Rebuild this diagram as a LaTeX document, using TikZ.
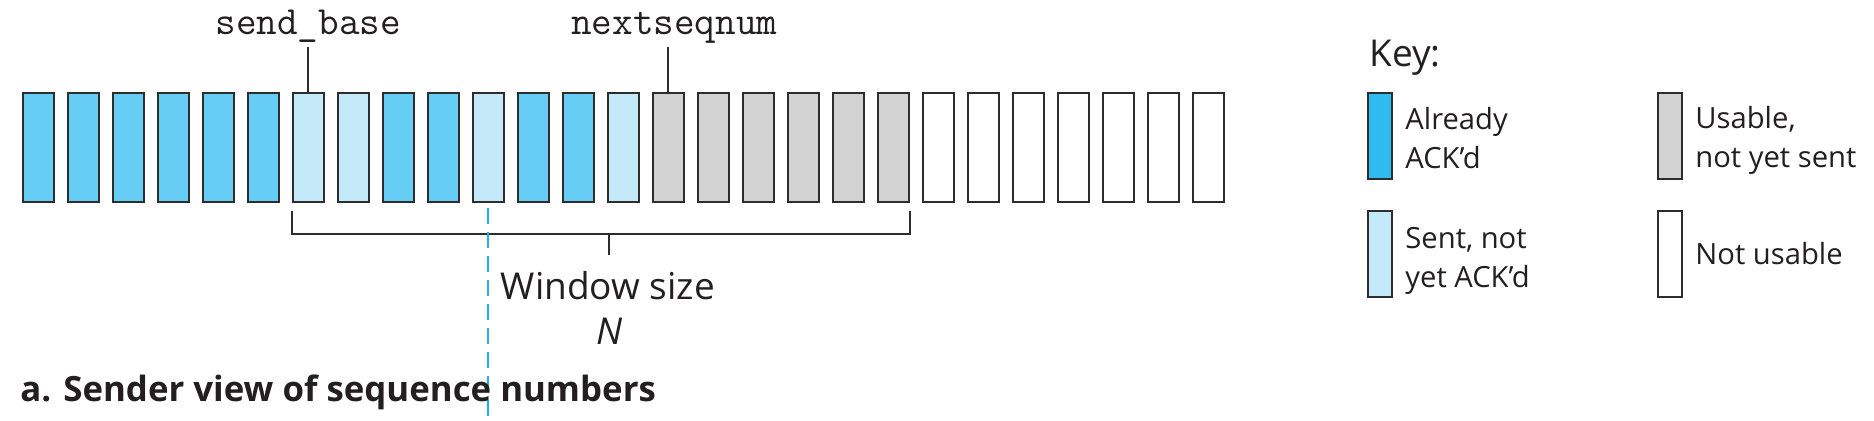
\documentclass[tikz,border=0pt]{standalone}
\usepackage{fontspec}
\setmainfont{Open Sans}
\usetikzlibrary{positioning}
\definecolor{ackblue}{RGB}{102,206,245}
\definecolor{keyblue}{RGB}{45,187,240}
\definecolor{sentblue}{RGB}{196,234,250}
\definecolor{usegray}{RGB}{210,210,210}
\definecolor{edge}{RGB}{45,45,45}
\definecolor{ink}{RGB}{35,31,32}
\definecolor{cutblue}{RGB}{26,178,238}
\tikzstyle{seqbox}=[draw=edge, line width=1pt, inner sep=0pt,
    minimum width=15.25pt, minimum height=54.25pt]
\tikzstyle{acked}=[seqbox, fill=ackblue]
\tikzstyle{sent}=[seqbox, fill=sentblue]
\tikzstyle{usable}=[seqbox, fill=usegray]
\tikzstyle{unused}=[seqbox, fill=white]
\tikzstyle{keybox}=[draw=edge, line width=1pt, inner sep=0pt,
    minimum width=12pt, minimum height=43pt]
\tikzstyle{ptr}=[font=\ttfamily\fontsize{20}{24}\selectfont, text=ink, inner sep=0pt]
\tikzstyle{lbl}=[font=\fontsize{18.5}{22}\selectfont, text=ink, inner sep=0pt]
\tikzstyle{keytxt}=[font=\fontsize{14.6}{19.5}\selectfont, text=ink, inner sep=0pt, align=left]
\tikzstyle{leader}=[draw=edge, line width=1pt]
\tikzstyle{cutline}=[draw=cutblue, line width=1.1pt, dash pattern=on 8pt off 4pt]

\begin{document}
\begin{tikzpicture}[x=0.5pt, y=0.5pt]
    \useasboundingbox (0,0) rectangle (1874,421);
    \foreach \s [count=\i from 0] in {acked,acked,acked,acked,acked,acked,sent,sent,
        acked,acked,sent,acked,acked,sent,usable,usable,usable,usable,usable,usable,
        unused,unused,unused,unused,unused,unused,unused}
        \node (seq\i) [\s] at (38.25+45*\i, 273.25) {};
    \node (sendbase) [ptr, above=28.75pt of seq6.north, anchor=base] {send\_base};
    \node (nextseq) [ptr, above=28.75pt of seq14.north, anchor=base, xshift=3pt] {nextseqnum};
    \draw [leader, shorten >=6pt] (seq6.north) -- (seq6.north |- sendbase.base);
    \draw [leader, shorten >=6pt] (seq14.north) -- (seq14.north |- nextseq.base);
    \draw [leader] ([yshift=-3.85pt]seq6.south west) -- ++(0,-23) -| ([yshift=-3.85pt]seq19.south east);
    \coordinate (wmid) at (609,187.3);
    \draw [leader] (wmid) -- ++(0,-21.3);
    \node (wsize) [lbl, anchor=base] at (608,121) {Window size};
    \node (wn) [lbl, anchor=base] at (610,76) {\itshape N};
    \draw [cutline] ([yshift=-2.5pt]seq10.south) -- (seq10.south |- 0,0);
    \node (caption) [font=\bfseries\fontsize{17.4}{20}\selectfont, text=ink, inner sep=0pt,
        anchor=base west] at (20,19) {a. Sender view of sequence numbers};

    \node (key) [font=\fontsize{18.5}{22}\selectfont, text=ink, inner sep=0pt,
        anchor=base west] at (1369,354) {Key:};
    \node (keyacked) [keybox, fill=keyblue] at (1380,285) {};
    \node (keysent) [keybox, fill=sentblue, below=15pt of keyacked] {};
    \node (keyusable) [keybox, fill=usegray, right=132pt of keyacked] {};
    \node (keyfree) [keybox, fill=white, below=15pt of keyusable] {};
    \node (txacked) [keytxt, anchor=north west] at ([xshift=6pt, yshift=-7.5pt]keyacked.north east) {Already\\ACK'd};
    \node (txsent) [keytxt, anchor=north west] at ([xshift=6pt, yshift=-8.4pt]keysent.north east) {Sent, not\\yet ACK'd};
    \node (txusable) [keytxt, anchor=north west] at ([xshift=6pt, yshift=-7pt]keyusable.north east) {Usable,\\not yet sent};
    \node (txfree) [keytxt, anchor=west] at ([xshift=6pt]keyfree.east) {Not usable};
\end{tikzpicture}
\end{document}
